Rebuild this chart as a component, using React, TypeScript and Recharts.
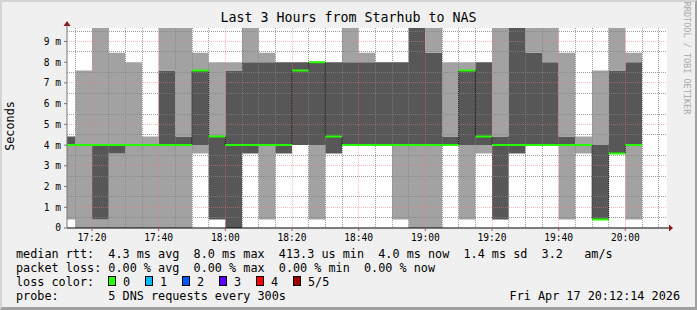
import { ComposedChart, Area, Line, XAxis, YAxis, CartesianGrid, ReferenceDot } from 'recharts';

// 5 minute probe slots, minutes after 17:00 (the first slot is cut by the left edge)
const slotStart = [
  10, 15, 20, 25, 30, 35, 40, 45, 50, 55, 60, 65, 70, 75, 80, 85, 90, 95,
  100, 105, 110, 115, 120, 125, 130, 135, 140, 145, 150, 155, 160, 165, 170, 175, 180,
];
const STEP = 5;

// sorted ping times per slot, ms
const pingMin = [
  0.41, 0, 0, 0, 0, 0, 0, 0, 3.6, 0.41, 0, 3.6, 0.41, 3.6, 4.0, 0.41, 3.6, 4.0,
  4.0, 4.0, 0.41, 0, 0, 4.0, 0.41, 3.6, 0.41, 3.6, 4.0, 4.0, 0.41, 3.6, 0.41, 3.6, 0.41,
];
const pingLow = [
  4.0, 4.0, 0.41, 3.6, 4.0, 4.0, 4.0, 4.0, 4.0, 0.41, 0, 3.6, 4.0, 3.6, 4.0, 4.0, 3.6, 4.0,
  4.0, 4.0, 4.0, 4.0, 4.0, 4.0, 4.0, 4.0, 0.41, 3.6, 4.0, 4.0, 4.0, 4.0, 0.41, 3.6, 4.0,
];
const pingMedian = [
  4.0, 4.0, 4.0, 4.0, 4.0, 4.0, 4.0, 4.0, 7.6, 4.42, 4.0, 4.0, 4.0, 4.0, 7.6, 8.0, 4.42, 4.0,
  4.0, 4.0, 4.0, 4.0, 4.0, 4.0, 7.6, 4.42, 4.0, 4.0, 4.0, 4.0, 4.0, 4.0, 0.41, 3.6, 4.0,
];
const pingHigh = [
  4.42, 4.0, 4.0, 4.0, 4.0, 4.0, 7.6, 4.42, 7.6, 4.42, 7.6, 8.0, 8.0, 8.0, 8.0, 8.0, 8.0, 8.0,
  8.0, 8.0, 8.0, 9.7, 8.45, 4.42, 7.6, 8.0, 4.42, 9.7, 8.45, 8.0, 4.42, 4.0, 4.0, 7.6, 8.0,
];
const pingMax = [
  4.42, 7.6, 9.7, 8.45, 8.0, 4.42, 9.7, 9.7, 8.45, 8.0, 8.0, 9.7, 8.45, 8.0, 8.0, 8.0, 8.0, 9.7,
  8.45, 8.0, 8.0, 9.7, 9.7, 8.0, 8.0, 8.0, 9.7, 9.7, 9.7, 9.7, 8.45, 4.42, 7.6, 9.7, 8.45,
];

const xTicks = [20, 40, 60, 80, 100, 120, 140, 160, 180];
const xTickLabels = ['17:20', '17:40', '18:00', '18:20', '18:40', '19:00', '19:20', '19:40', '20:00'];
const yTicks = [0, 1, 2, 3, 4, 5, 6, 7, 8, 9];
const yTickLabels = ['0', '1 m', '2 m', '3 m', '4 m', '5 m', '6 m', '7 m', '8 m', '9 m'];

const lossLabels = ['0', '1', '2', '3', '4', '5/5'];
const lossColors = ['#26ff00', '#00b8ff', '#0059ff', '#5e00ff', '#ff0000', '#a00000'];

const X_DOMAIN: [number, number] = [12.5, 192.5];
const Y_DOMAIN: [number, number] = [0, 9.65];
const W = 697;
const H = 310;
const MONO = "'DejaVu Sans Mono', monospace";

const smokeRows = slotStart.map((t, i) => ({
  t,
  base: pingMin[i],
  outerLow: pingLow[i] - pingMin[i],
  inner: pingHigh[i] - pingLow[i],
  outerHigh: pingMax[i] - pingHigh[i],
}));
smokeRows.push({ ...smokeRows[smokeRows.length - 1], t: slotStart[slotStart.length - 1] + STEP });

// median as steps; seg breaks between slots so only the flat parts get the loss colour
const medianRows = slotStart.flatMap((t, i) => [
  { t, med: pingMedian[i], seg: pingMedian[i] as number | null },
  { t: t + STEP, med: pingMedian[i], seg: pingMedian[i] as number | null },
  { t: t + STEP, med: pingMedian[i], seg: null },
]);

const minorY = Array.from({ length: 19 }, (_, i) => (i + 1) * 0.5);
const majorY = yTicks.slice(1);
const minorX = Array.from({ length: 36 }, (_, i) => 15 + i * 5);

const ArrowUp = ({ cx, cy }: any) => (
  <g>
    <line x1={cx} y1={cy} x2={cx} y2={cy - 3} stroke="#777" />
    <path d={`M${cx - 3.5},${cy - 2}L${cx + 3.5},${cy - 2}L${cx},${cy - 7}Z`} fill="#8b1a1a" />
  </g>
);

const ArrowRight = ({ cx, cy }: any) => (
  <g>
    <line x1={cx} y1={cy} x2={cx + 3} y2={cy} stroke="#000" />
    <path d={`M${cx + 2},${cy - 3.5}L${cx + 2},${cy + 3.5}L${cx + 6},${cy}Z`} fill="#8b1a1a" />
  </g>
);

const abs = { position: 'absolute' as const, left: 0, top: 0 };
const legendLine = { position: 'absolute' as const, left: 16, fontFamily: MONO, fontSize: 11.8, lineHeight: '14px', whiteSpace: 'pre' as const, color: '#000' };

export default function App() {
  return (
    <div style={{ position: 'relative', width: W, height: H, background: '#f0f0f0', overflow: 'hidden' }}>
      <style>{'body{margin:0}'}</style>

      <div style={abs}>
        <ComposedChart width={W} height={H} data={smokeRows} margin={{ top: 28, right: 30, bottom: 82, left: 67 }}>
          <CartesianGrid fill="#ffffff" stroke="none" />
          <XAxis dataKey="t" type="number" domain={X_DOMAIN} allowDataOverflow hide />
          <YAxis type="number" domain={Y_DOMAIN} allowDataOverflow hide />
          <Area type="stepAfter" dataKey="base" stackId="smoke" fill="none" stroke="none" isAnimationActive={false} />
          <Area type="stepAfter" dataKey="outerLow" stackId="smoke" fill="#a2a2a2" fillOpacity={1} stroke="none" isAnimationActive={false} />
          <Area type="stepAfter" dataKey="inner" stackId="smoke" fill="#575757" fillOpacity={1} stroke="none" isAnimationActive={false} />
          <Area type="stepAfter" dataKey="outerHigh" stackId="smoke" fill="#a2a2a2" fillOpacity={1} stroke="none" isAnimationActive={false} />
        </ComposedChart>
      </div>

      <div style={abs}>
        <ComposedChart width={W} height={H} data={medianRows} margin={{ top: 28, right: 30, bottom: 62, left: 7 }}>
          <CartesianGrid
            horizontalValues={minorY}
            verticalValues={minorX}
            stroke="rgba(130,130,130,0.75)"
            strokeDasharray="1 1"
            shapeRendering="crispEdges"
          />
          <CartesianGrid
            horizontalValues={majorY}
            verticalValues={xTicks}
            stroke="rgba(240,120,120,0.5)"
            strokeDasharray="1 1"
            shapeRendering="crispEdges"
          />
          <XAxis
            dataKey="t"
            type="number"
            domain={X_DOMAIN}
            allowDataOverflow
            ticks={xTicks}
            tickFormatter={(v: number) => xTickLabels[xTicks.indexOf(v)]}
            height={20}
            tickSize={3}
            tickMargin={3}
            axisLine={{ stroke: '#000' }}
            tickLine={{ stroke: '#c05050' }}
            tick={{ fontSize: 9.6, fontFamily: MONO, fill: '#000' }}
          />
          <YAxis
            type="number"
            domain={Y_DOMAIN}
            allowDataOverflow
            ticks={yTicks}
            tickFormatter={(v: number) => yTickLabels[yTicks.indexOf(v)]}
            width={60}
            tickSize={3}
            tickMargin={3}
            axisLine={{ stroke: '#777' }}
            tickLine={{ stroke: '#777' }}
            tick={{ fontSize: 9.6, fontFamily: MONO, fill: '#000' }}
          />
          <Line type="linear" dataKey="med" stroke="#000" strokeWidth={1} strokeDasharray="1 1" dot={false} isAnimationActive={false} />
          <Line type="linear" dataKey="seg" stroke={lossColors[0]} strokeWidth={2} dot={false} connectNulls={false} isAnimationActive={false} />
          <ReferenceDot x={X_DOMAIN[0]} y={Y_DOMAIN[1]} r={0} ifOverflow="visible" shape={ArrowUp} />
          <ReferenceDot x={X_DOMAIN[1]} y={Y_DOMAIN[0]} r={0} ifOverflow="visible" shape={ArrowRight} />
        </ComposedChart>
      </div>

      <div style={{ position: 'absolute', left: 0, top: 10, width: W, textAlign: 'center', fontFamily: MONO, fontSize: 13.3, lineHeight: '16px', color: '#000', whiteSpace: 'pre' }}>
        Last 3 Hours from Starhub to NAS
      </div>

      <div style={{ position: 'absolute', left: 10, top: 126, transform: 'translate(-50%, -50%) rotate(-90deg)', fontFamily: MONO, fontSize: 11.8, color: '#000', whiteSpace: 'pre' }}>
        Seconds
      </div>

      <div style={{ position: 'absolute', left: 687, top: 58, transform: 'translate(-50%, -50%) rotate(90deg)', fontFamily: MONO, fontSize: 8.5, color: '#aaa', whiteSpace: 'pre' }}>
        RRDTOOL / TOBI OETIKER
      </div>

      <div style={{ ...legendLine, top: 247 }}>median rtt:  4.3 ms avg  8.0 ms max  413.3 us min  4.0 ms now  1.4 ms sd  3.2   am/s</div>
      <div style={{ ...legendLine, top: 261 }}>packet loss: 0.00 % avg  0.00 % max  0.00 % min  0.00 % now</div>
      <div style={{ ...legendLine, top: 275 }}>loss color:</div>
      {lossLabels.map((label, i) => (
        <div key={label}>
          <div style={{ position: 'absolute', left: 108 + i * 37, top: 276, width: 8, height: 10, boxSizing: 'border-box', border: '1px solid #000', background: lossColors[i] }} />
          <div style={{ ...legendLine, left: 123 + i * 37, top: 275 }}>{label}</div>
        </div>
      ))}
      <div style={{ ...legendLine, top: 289 }}>probe:       5 DNS requests every 300s</div>
      <div style={{ ...legendLine, left: 'auto', right: 17, top: 289 }}>Fri Apr 17 20:12:14 2026</div>

      <div style={{ position: 'absolute', left: 0, top: 0, width: W, height: H, boxSizing: 'border-box', borderTop: '2px solid #d4d4d4', borderLeft: '2px solid #d4d4d4', borderRight: '2px solid #a0a0a0', borderBottom: '3px solid #a0a0a0', pointerEvents: 'none' }} />
    </div>
  );
}
